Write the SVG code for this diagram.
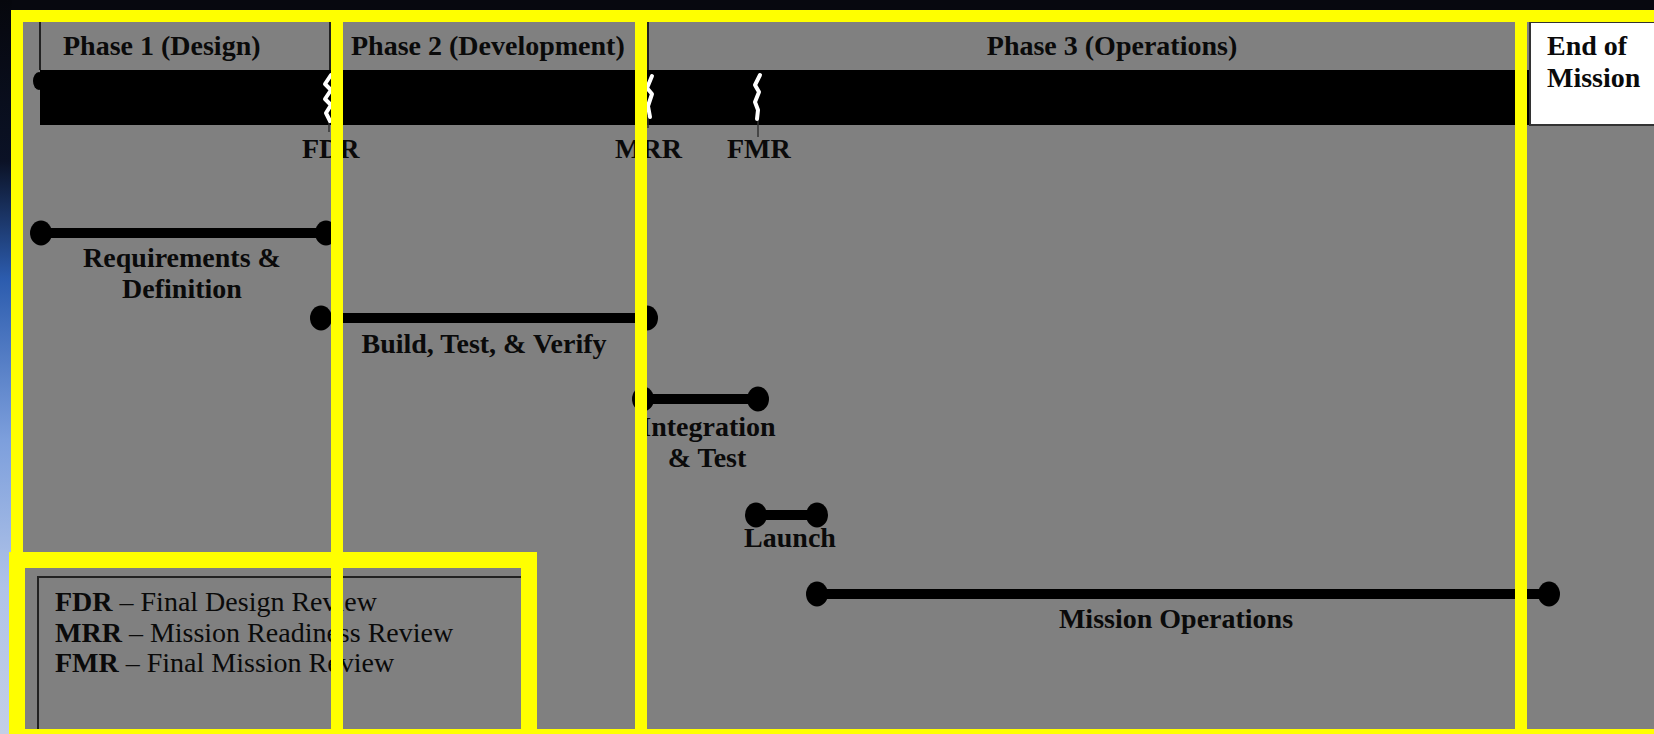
<svg xmlns="http://www.w3.org/2000/svg" width="1654" height="734" viewBox="0 0 1654 734">
<defs>
<linearGradient id="earth" x1="0" y1="0" x2="0" y2="1">
<stop offset="0" stop-color="#06070d"/>
<stop offset="0.22" stop-color="#0b1226"/>
<stop offset="0.38" stop-color="#2c5cae"/>
<stop offset="0.6" stop-color="#7d9fdc"/>
<stop offset="0.8" stop-color="#b0c3e8"/>
<stop offset="1" stop-color="#c3cfe6"/>
</linearGradient>
<style>
.lbl{font-family:"Liberation Serif","Times New Roman",serif;font-size:28px;font-weight:bold;fill:#0a0a0a}
.leg{font-family:"Liberation Serif","Times New Roman",serif;font-size:28px;fill:#0a0a0a}
.leg .b{font-weight:bold}
.bar{stroke:#000;stroke-width:10;fill:none}
.dot{fill:#000}
.ms{stroke:#fff;stroke-width:4;fill:none;stroke-linejoin:round;stroke-linecap:round}
.tick{stroke:#333;stroke-width:1.5}
.yl{fill:#ffff00}
</style>
</defs>
<rect x="0" y="0" width="1654" height="734" fill="#07080f"/>
<rect x="0" y="0" width="12" height="734" fill="url(#earth)"/>
<rect x="12" y="10" width="1642" height="724" fill="#808080"/>

<g id="header">
<line x1="40" y1="22" x2="40" y2="70" stroke="#222" stroke-width="2"/>
<line x1="330" y1="22" x2="330" y2="70" stroke="#222" stroke-width="2"/>
<line x1="648" y1="22" x2="648" y2="70" stroke="#222" stroke-width="2"/>
<text class="lbl" x="63" y="55">Phase 1 (Design)</text>
<text class="lbl" x="351" y="55">Phase 2 (Development)</text>
<text class="lbl" x="1112" y="55" text-anchor="middle">Phase 3 (Operations)</text>
</g>

<g id="timebar">
<rect x="40" y="70" width="1490" height="55" fill="#000"/>
<ellipse cx="39" cy="81" rx="6" ry="9" fill="#000"/>
</g>

<g id="end-of-mission">
<rect x="1530" y="22" width="130" height="103" fill="#fff" stroke="#333" stroke-width="2"/>
<text class="lbl" x="1547" y="55">End of</text>
<text class="lbl" x="1547" y="87">Mission</text>
</g>

<g id="milestone-fdr">
<line class="tick" x1="329" y1="118" x2="329" y2="132"/>
<path class="ms" d="M331 75 L325 84 L331 90 L325 99 L331 105 L326 113 L330 121"/>
<text class="lbl" x="302" y="158">FDR</text>
</g>
<g id="milestone-mrr">
<line class="tick" x1="648" y1="116" x2="648" y2="128"/>
<path class="ms" d="M652 76 L647 88 L652 94 L648 106 L650 117"/>
<text class="lbl" x="615" y="158">MRR</text>
</g>
<g id="milestone-fmr">
<line class="tick" x1="758" y1="116" x2="758" y2="137"/>
<path class="ms" d="M760 75 L755 85 L759 92 L755 102 L758 110 L757 119"/>
<text class="lbl" x="727" y="158">FMR</text>
</g>

<g id="connectors">
<line class="bar" x1="41" y1="233" x2="326" y2="233"/>
<line class="bar" x1="321" y1="318" x2="647" y2="318"/>
<line class="bar" x1="643" y1="399" x2="758" y2="399"/>
<line class="bar" x1="756" y1="515" x2="817" y2="515"/>
<line class="bar" x1="817" y1="594" x2="1549" y2="594"/>
</g>

<g id="task-requirements">
<ellipse class="dot" cx="41" cy="233" rx="11" ry="12.5"/>
<ellipse class="dot" cx="326" cy="233" rx="11" ry="12.5"/>
<text class="lbl" x="182" y="267" text-anchor="middle">Requirements &amp;</text>
<text class="lbl" x="182" y="298" text-anchor="middle">Definition</text>
</g>
<g id="task-build">
<ellipse class="dot" cx="321" cy="318" rx="11" ry="12.5"/>
<ellipse class="dot" cx="647" cy="318" rx="11" ry="12.5"/>
<text class="lbl" x="484" y="353" text-anchor="middle">Build, Test, &amp; Verify</text>
</g>
<g id="task-integration">
<ellipse class="dot" cx="643" cy="399" rx="11" ry="12.5"/>
<ellipse class="dot" cx="758" cy="399" rx="11" ry="12.5"/>
<text class="lbl" x="708" y="436" text-anchor="middle">Integration</text>
<text class="lbl" x="707" y="467" text-anchor="middle">&amp; Test</text>
</g>
<g id="task-launch">
<ellipse class="dot" cx="756" cy="515" rx="11" ry="12.5"/>
<ellipse class="dot" cx="817" cy="515" rx="11" ry="12.5"/>
<text class="lbl" x="790" y="547" text-anchor="middle">Launch</text>
</g>
<g id="task-mission-ops">
<ellipse class="dot" cx="817" cy="594" rx="11" ry="12.5"/>
<ellipse class="dot" cx="1549" cy="594" rx="11" ry="12.5"/>
<text class="lbl" x="1176" y="628" text-anchor="middle">Mission Operations</text>
</g>

<g id="legend">
<rect x="38" y="577" width="486" height="170" fill="none" stroke="#222" stroke-width="2"/>
<text class="leg" x="55" y="611"><tspan class="b">FDR</tspan> – Final Design Review</text>
<text class="leg" x="55" y="642"><tspan class="b">MRR</tspan> – Mission Readiness Review</text>
<text class="leg" x="55" y="672"><tspan class="b">FMR</tspan> – Final Mission Review</text>
</g>

<g id="highlights">
<rect class="yl" x="11" y="10" width="1643" height="12"/>
<rect class="yl" x="11" y="10" width="12" height="724"/>
<rect class="yl" x="331" y="10" width="12" height="724"/>
<rect class="yl" x="635" y="10" width="12" height="724"/>
<rect class="yl" x="1515" y="10" width="12" height="724"/>
<rect class="yl" x="9" y="729" width="1645" height="5"/>
<path class="yl" fill-rule="evenodd" d="M9 552 H537 V734 H9 Z M25 568 V729 H521 V568 Z"/>
</g>
</svg>
